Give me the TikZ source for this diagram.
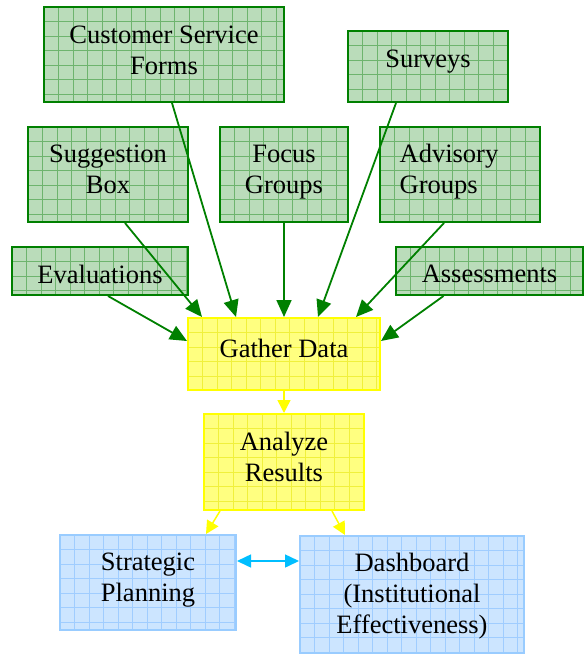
\documentclass[tikz,border=0pt]{standalone}
\usepackage{fontspec}
\setmainfont{Liberation Serif}
\usetikzlibrary{arrows.meta}

\definecolor{srcfill}{RGB}{186,220,186}
\definecolor{srcgrid}{RGB}{110,180,110}
\definecolor{srcline}{RGB}{0,128,0}
\definecolor{yelfill}{RGB}{255,255,128}
\definecolor{yelgrid}{RGB}{240,240,60}
\definecolor{yelline}{RGB}{255,255,0}
\definecolor{blufill}{RGB}{204,229,255}
\definecolor{blugrid}{RGB}{160,205,255}
\definecolor{bluline}{RGB}{153,204,255}
\definecolor{linkcyan}{RGB}{0,190,255}

\tikzset{
  gridbox/.style={
    rectangle, inner sep=0pt, line width=2pt,
    path picture={
      \foreach \i in {1,...,18}
        \draw[#1, line width=0.7pt]
          ([xshift=\i*14.5pt]path picture bounding box.north west) --
          ([xshift=\i*14.5pt]path picture bounding box.south west);
      \foreach \i in {1,...,10}
        \draw[#1, line width=0.7pt]
          ([yshift=-\i*14.5pt]path picture bounding box.north west) --
          ([yshift=-\i*14.5pt]path picture bounding box.north east);
    }
  },
  srcbox/.style={gridbox=srcgrid, fill=srcfill, draw=srcline},
  yelbox/.style={gridbox=yelgrid, fill=yelfill, draw=yelline},
  blubox/.style={gridbox=blugrid, fill=blufill, draw=bluline},
  size/.style 2 args={minimum width=#1pt, minimum height=#2pt},
  label text/.style={inner sep=0pt, align=center, font=\fontsize{26.5}{31}\selectfont},
  feed/.style={draw=srcline, line width=1.8pt, -{Triangle[length=17pt,width=15pt]}, fill=srcline},
  flow/.style={draw=yelline, line width=1.5pt, -{Triangle[length=13pt,width=13pt]}, fill=yelline},
  link/.style={draw=linkcyan, line width=1.5pt, {Triangle[length=14pt,width=13pt]}-{Triangle[length=14pt,width=13pt]}, fill=linkcyan}
}

\begin{document}
\begin{tikzpicture}[x=1pt, y=-1pt]
\useasboundingbox (0,0) rectangle (584,656);

% sources
\node[srcbox, size={240}{95}] (csf) at (164,54.5) {};
\node[srcbox, size={160}{71}] (surv) at (428,66.5) {};
\node[srcbox, size={160}{95}] (sugg) at (108,174.5) {};
\node[srcbox, size={128}{95}] (focus) at (284,174.5) {};
\node[srcbox, size={160}{95}] (adv) at (460,174.5) {};
\node[srcbox, size={176}{48}] (eval) at (100,271) {};
\node[srcbox, size={187}{48}] (assess) at (489.5,271) {};

% process
\node[yelbox, size={192}{72}] (gather) at (284,354) {};
\node[yelbox, size={160}{96}] (analyze) at (284,462) {};

% outcomes
\node[blubox, size={176}{95}] (strat) at (148,582.5) {};
\node[blubox, size={224}{117}] (dash) at (412,594.5) {};

% box captions
\node[label text] (csf-t) at ([yshift=4pt]csf.center) {Customer Service\\Forms};
\node[label text] (surv-t) at ([yshift=5pt]surv.center) {Surveys};
\node[label text] (sugg-t) at ([yshift=5pt]sugg.center) {Suggestion\\Box};
\node[label text] (focus-t) at ([yshift=2.5pt]focus.center) {Focus\\Groups};
\node[label text, align=left] (adv-t) at ([xshift=-11pt,yshift=3pt]adv.center) {Advisory\\Groups};
\node[label text] (eval-t) at ([yshift=-3pt]eval.center) {Evaluations};
\node[label text] (assess-t) at ([yshift=-3pt]assess.center) {Assessments};
\node[label text] (gather-t) at ([yshift=6pt]gather.center) {Gather Data};
\node[label text] (analyze-t) at ([yshift=5.5pt]analyze.center) {Analyze\\Results};
\node[label text] (strat-t) at ([yshift=2pt]strat.center) {Strategic\\Planning};
\node[label text] (dash-t) at ([yshift=-2pt]dash.center) {Dashboard\\(Institutional\\Effectiveness)};

% inputs into data gathering
\draw[feed] ([xshift=8pt]csf.south) -- ([xshift=-48pt]gather.north);
\draw[feed] ([xshift=17pt]sugg.south) -- ([xshift=-82pt]gather.north);
\draw[feed] (focus.south) -- (gather.north);
\draw[feed] ([xshift=-32pt]surv.south) -- ([xshift=34pt]gather.north);
\draw[feed] ([xshift=-16pt]adv.south) -- ([xshift=72pt]gather.north);
\draw[feed] ([xshift=8pt]eval.south) -- ([yshift=13pt]gather.west);
\draw[feed] ([xshift=-46pt]assess.south) -- ([yshift=13pt]gather.east);

% processing chain
\draw[flow] (gather.south) -- (analyze.north);
\draw[flow] ([xshift=-64pt]analyze.south) -- ([xshift=58pt]strat.north);
\draw[flow] ([xshift=48pt]analyze.south) -- ([xshift=-67pt]dash.north);

% planning <-> dashboard
\draw[link] ([yshift=21.5pt]strat.east) -- ([yshift=33.5pt]dash.west);
\end{tikzpicture}
\end{document}
